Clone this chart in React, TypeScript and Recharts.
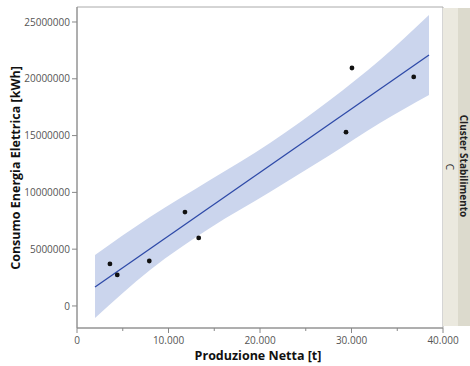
import React from "react";
import {
  ComposedChart,
  Area,
  Line,
  Scatter,
  XAxis,
  YAxis,
  ReferenceArea,
} from "recharts";

// measured points
const prodX = [3600, 4400, 7900, 11800, 13300, 29400, 30050, 36800];
const consY = [3700000, 2730000, 3960000, 8270000, 5990000, 15300000, 20950000, 20160000];

// fit line ends
const fitX = [1970, 38470];
const fitY = [1670000, 22090000];

// confidence band
const bandX = [1970, 7980, 14540, 21090, 27650, 33110, 38470];
const bandLow = [-1060000, 3170000, 6870000, 10040000, 13290000, 16110000, 18570000];
const bandHigh = [4490000, 7830000, 11090000, 14350000, 18130000, 21650000, 25620000];

const xTicks = [0, 5000, 10000, 15000, 20000, 25000, 30000, 35000, 40000];
const yTicks = [0, 5000000, 10000000, 15000000, 20000000, 25000000];

const points = prodX.map((x, i) => ({ x, y: consY[i] }));
const fit = fitX.map((x, i) => ({ x, fit: fitY[i] }));
const band = bandX.map((x, i) => ({ x, band: [bandLow[i], bandHigh[i]] }));

const FONT = "'Open Sans', sans-serif";
const AXIS_Y = 328;

const XTick = (props: any) => {
  const { x, payload } = props;
  const major = payload.value % 10000 === 0;
  const label = payload.value === 0 ? "0" : payload.value.toLocaleString("it-IT");
  return (
    <g>
      <line x1={x} x2={x} y1={AXIS_Y} y2={AXIS_Y + (major ? 5 : 3)} stroke="#888" />
      {major && (
        <text x={x} y={AXIS_Y + 16} textAnchor="middle" fontSize={10} fill="#555" fontFamily={FONT}>
          {label}
        </text>
      )}
    </g>
  );
};

const Dot = (props: any) => <circle cx={props.cx} cy={props.cy} r={2.4} fill="#111" />;

export default function App() {
  return (
    <div style={{ position: "absolute", left: 0, top: 0, width: 470, height: 366, background: "#fff" }}>
      <ComposedChart width={470} height={366} margin={{ top: 7, right: 27, bottom: 0, left: 0 }}>
        <XAxis
          type="number"
          dataKey="x"
          domain={[0, 40000]}
          ticks={xTicks}
          interval={0}
          height={38}
          stroke="#888"
          tickLine={false}
          tick={<XTick />}
        />
        <YAxis
          type="number"
          domain={[-1940000, 26320000]}
          ticks={yTicks}
          interval={0}
          width={77}
          stroke="#888"
          tickSize={5}
          tickMargin={2}
          tick={{ fontSize: 10, fill: "#555", fontFamily: FONT }}
        />
        <ReferenceArea x1={0} x2={40000} y1={-1940000} y2={26320000} fill="none" stroke="#aaa" />
        <Area
          data={band}
          dataKey="band"
          type="monotone"
          fill="#cbd5ed"
          fillOpacity={1}
          stroke="none"
          isAnimationActive={false}
        />
        <Line
          data={fit}
          dataKey="fit"
          type="linear"
          stroke="#2e4aa8"
          strokeWidth={1.3}
          dot={false}
          isAnimationActive={false}
        />
        <Scatter data={points} dataKey="y" shape={<Dot />} isAnimationActive={false} />
      </ComposedChart>
      <div
        style={{
          position: "absolute",
          left: 258,
          top: 355,
          transform: "translate(-50%, -50%)",
          fontFamily: FONT,
          fontSize: 12.5,
          fontWeight: 700,
          color: "#111",
          whiteSpace: "nowrap",
        }}
      >
        Produzione Netta [t]
      </div>
      <div
        style={{
          position: "absolute",
          left: 15,
          top: 168,
          transform: "translate(-50%, -50%) rotate(-90deg)",
          fontFamily: FONT,
          fontSize: 12.5,
          fontWeight: 700,
          color: "#111",
          whiteSpace: "nowrap",
        }}
      >
        Consumo Energia Elettrica [kWh]
      </div>
      <div style={{ position: "absolute", left: 443, top: 8, width: 15, height: 318, background: "#ebe9df" }} />
      <div style={{ position: "absolute", left: 458, top: 8, width: 12, height: 318, background: "#dcdacd" }} />
      <div
        style={{
          position: "absolute",
          left: 450,
          top: 167,
          transform: "translate(-50%, -50%) rotate(90deg)",
          fontFamily: FONT,
          fontSize: 10,
          color: "#333",
          whiteSpace: "nowrap",
        }}
      >
        C
      </div>
      <div
        style={{
          position: "absolute",
          left: 464,
          top: 166,
          transform: "translate(-50%, -50%) rotate(90deg)",
          fontFamily: FONT,
          fontSize: 10,
          fontWeight: 700,
          color: "#222",
          whiteSpace: "nowrap",
        }}
      >
        Cluster Stabilimento
      </div>
    </div>
  );
}
